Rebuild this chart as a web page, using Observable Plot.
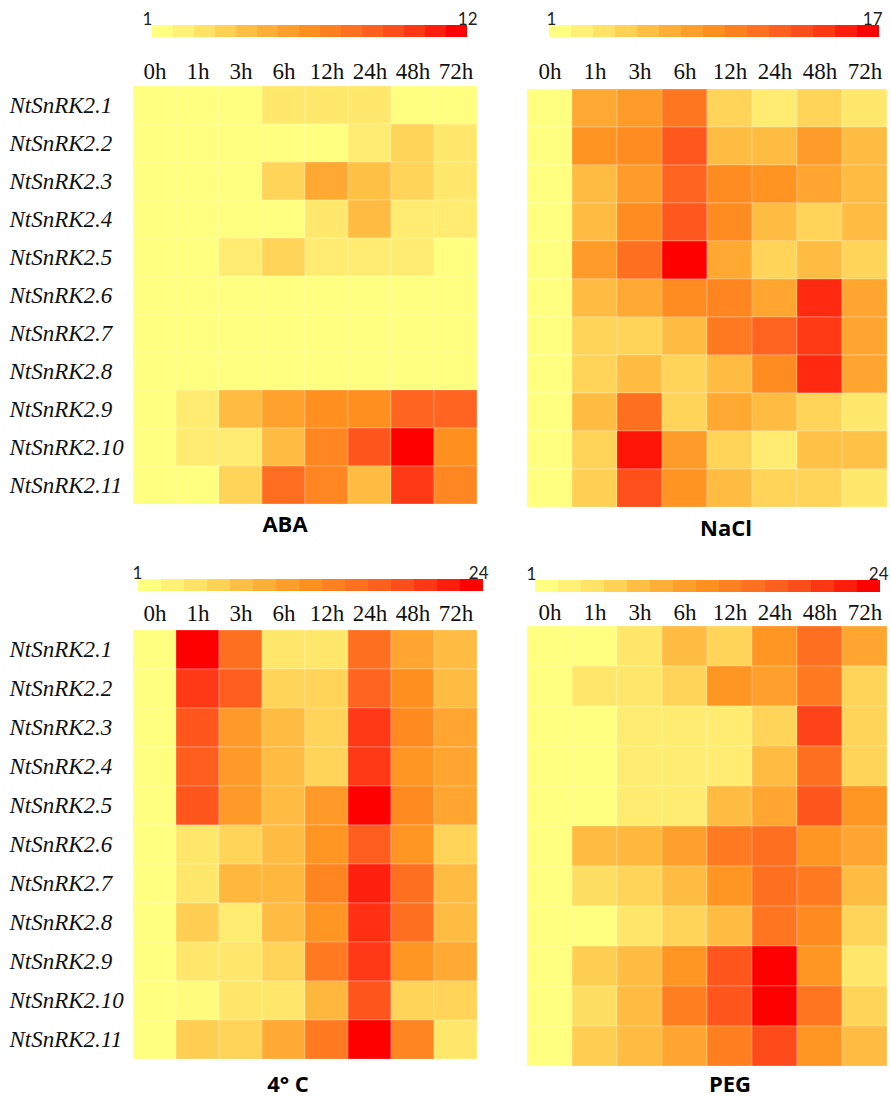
<!DOCTYPE html>
<html><head><meta charset="utf-8">
<script src="https://cdn.jsdelivr.net/npm/d3@7"></script>
<script src="https://cdn.jsdelivr.net/npm/@observablehq/plot@0.6"></script>
<style>
body{margin:0;background:#fff;}
#root{position:relative;width:891px;height:1101px;overflow:hidden;background:#fff;}
#root svg{position:absolute;overflow:visible;}
.title{position:absolute;font-family:"Open Sans",Lato,sans-serif;font-weight:bold;font-size:22px;color:#000;transform:translate(-50%,-50%);white-space:pre;line-height:1;}
</style></head><body><div id="root"></div>
<script>
const genes = ["NtSnRK2.1","NtSnRK2.2","NtSnRK2.3","NtSnRK2.4","NtSnRK2.5","NtSnRK2.6","NtSnRK2.7","NtSnRK2.8","NtSnRK2.9","NtSnRK2.10","NtSnRK2.11"];
const times = ["0h","1h","3h","6h","12h","24h","48h","72h"];

// Relative expression, rows = genes, columns = times
const abaValues = [
  [1, 1, 1, 2.3, 2.3, 2.3, 1, 1],
  [1, 1, 1, 1, 1, 2.1, 3.2, 2.3],
  [1, 1, 1, 3.2, 5.2, 4.1, 3.2, 2.3],
  [1, 1, 1, 1, 2.3, 4.3, 2.1, 2.1],
  [1, 1, 2.1, 3.2, 2.1, 2.1, 2.1, 1],
  [1, 1, 1, 1, 1, 1, 1, 1],
  [1, 1, 1, 1, 1, 1, 1, 1],
  [1, 1, 1, 1, 1, 1, 1, 1],
  [1, 2.1, 4.3, 5.6, 6.5, 6.5, 8.7, 8.7],
  [1, 2.1, 2.1, 4.3, 7, 9.3, 12, 6.5],
  [1, 1, 3.2, 8.2, 7, 4.3, 10.4, 7]
];
const naclValues = [
  [1, 7.1, 8.2, 10.9, 4.2, 2.6, 4.2, 2.9],
  [1, 8.7, 9.3, 13, 5.8, 5.8, 8.2, 5.8],
  [1, 5.8, 8.2, 12.2, 9.3, 8.7, 7.4, 5.8],
  [1, 5.8, 9.3, 13, 9.3, 5.8, 4.2, 5.8],
  [1, 8.2, 11.4, 17, 7.1, 4.2, 5.8, 4.2],
  [1, 5.8, 7.1, 9.3, 9.8, 7.4, 15.4, 7.4],
  [1, 4.2, 4.2, 5.8, 10.6, 12.2, 14.6, 7.4],
  [1, 4.2, 5.8, 4.2, 5.8, 9.3, 15.4, 7.4],
  [1, 5.8, 11.4, 4.2, 7.1, 5.8, 4.2, 2.9],
  [1, 4.2, 16.2, 8.2, 4.2, 2.6, 5.5, 5.5],
  [1, 4.5, 13.5, 8.7, 5.8, 4.2, 4.2, 2.9]
];
const coldValues = [
  [1, 24, 16, 3.8, 3.8, 16, 10.2, 7.9],
  [1, 20.6, 17.6, 5.6, 5.6, 17.1, 12.5, 7.9],
  [1, 18.3, 11.4, 7.9, 5.6, 20.6, 13, 10.2],
  [1, 17.6, 11.4, 7.9, 5.6, 20.6, 12, 10.2],
  [1, 18.3, 11.4, 7.9, 11.4, 24, 13, 10.2],
  [1, 3.8, 5.6, 7.9, 12, 17.6, 12, 5.6],
  [1, 3.8, 8.4, 8.4, 13.7, 22.2, 16, 7.9],
  [1, 6.1, 3.3, 7.9, 12, 21.2, 16, 7.9],
  [1, 3.8, 3.8, 5.6, 14.8, 20.6, 12, 9.7],
  [1, 1.5, 3.8, 3.8, 8.4, 18.3, 5.6, 5.6],
  [1, 6.1, 5.6, 9.7, 14.8, 24, 13.7, 3.8]
];
const pegValues = [
  [1, 1, 3.8, 7.9, 5.6, 12, 16, 10.2],
  [1, 3.8, 3.8, 5.6, 12, 10.7, 14.8, 5.6],
  [1, 1, 3.3, 3.3, 3.3, 5.6, 19.9, 5.6],
  [1, 1, 3.3, 3.3, 3.3, 7.9, 16, 5.6],
  [1, 1, 3.3, 3.3, 7.9, 10.2, 18.3, 12],
  [1, 7.9, 8.4, 10.7, 14.8, 16, 12, 10.2],
  [1, 4.5, 5.6, 7.9, 12, 16, 14.8, 7.9],
  [1, 1, 3.8, 5.6, 7.9, 15.3, 13, 5.6],
  [1, 6.1, 7.9, 12, 18.3, 24, 12, 3.8],
  [1, 4.5, 7.9, 14.3, 18.3, 24, 15.3, 5.6],
  [1, 6.1, 7.9, 10.2, 14.3, 19.4, 12, 7.9]
];
const panelTitles = ["ABA", "NaCl", "4° C", "PEG"];
const legendMax = [12, 17, 24, 24];

const heatColors = ["#ffff80","#ffec70","#ffd458","#ffbc42","#ffa530","#ff9020","#ff7a20","#ff6420","#ff4a1a","#ff2a10","#ff0000"];
const heat = d3.piecewise(d3.interpolateRgb, heatColors);

const panels = [
  {values: abaValues, cell:[130,480,85,505], legend:[145,474,25,37], gap:7, title:[285,523], showY:true},
  {values: naclValues, cell:[527,887,87,508], legend:[549,879,25,37], gap:9, title:[726,527], showY:false},
  {values: coldValues, cell:[130,480,625,1063], legend:[135,485,579,591], gap:5, title:[288,1083], showY:true},
  {values: pegValues, cell:[525,889,623,1068], legend:[529,885,580,592], gap:4, title:[730,1083], showY:false}
];

const root = document.getElementById("root");
const serif = "'Liberation Serif','Times New Roman',serif";
const sans = "Lato,'Open Sans',sans-serif";

panels.forEach((p, k) => {
  const max = legendMax[k];
  const colorOpt = {type: "linear", domain: [1, max], interpolate: heat};
  const data = [];
  genes.forEach((g, i) => times.forEach((t, j) => data.push({gene: g, time: t, value: p.values[i][j]})));

  // Heatmap
  const [x0, x1, y0, y1] = p.cell;
  const L = p.showY ? 0 : x0 - 6;
  const T = y0 - 40;
  const marks = [
    Plot.cell(data, {x: "time", y: "gene", fill: "value", inset: 0, stroke: "#fff", strokeOpacity: 0.25, strokeWidth: 1}),
    Plot.axisX({anchor: "top", tickSize: 0, tickPadding: p.gap, fontSize: 23, fontFamily: serif, fill: "#111", label: null})
  ];
  if (p.showY) {
    marks.push(Plot.text(genes, {y: d => d, text: d => d, frameAnchor: "left", textAnchor: "start", dx: -(x0 - 9), fontSize: 23, fontStyle: "italic", fontFamily: serif, fill: "#111"}));
  }
  const hm = Plot.plot({
    width: x1 - L + 2, height: y1 - T + 2,
    marginLeft: x0 - L, marginTop: y0 - T, marginRight: 2, marginBottom: 2,
    x: {type: "band", domain: times, padding: 0, axis: null},
    y: {type: "band", domain: genes, padding: 0, axis: null},
    color: colorOpt,
    style: {background: "transparent", overflow: "visible"},
    marks
  });
  hm.style.left = L + "px"; hm.style.top = T + "px";
  root.appendChild(hm);

  // Stepped legend bar
  const [lx0, lx1, ly0, ly1] = p.legend;
  const steps = d3.range(15).map(i => ({i, v: 1 + (max - 1) * i / 14}));
  const lg = Plot.plot({
    width: lx1 - lx0 + 20, height: ly1 - ly0 + 24,
    marginLeft: 10, marginRight: 10, marginTop: 22, marginBottom: 2,
    x: {type: "band", domain: d3.range(15), padding: 0, axis: null},
    color: colorOpt,
    style: {background: "transparent", overflow: "visible"},
    marks: [
      Plot.cell(steps, {x: "i", fill: "v", inset: 0}),
      Plot.text(["1"], {frameAnchor: "top-left", textAnchor: "start", lineAnchor: "bottom", dy: -1, dx: -3, fontSize: 17, fontFamily: sans, fill: "#222"}),
      Plot.text([String(max)], {frameAnchor: "top-right", textAnchor: "end", lineAnchor: "bottom", dy: -1, dx: 3, fontSize: 17, fontFamily: sans, fill: "#222"})
    ]
  });
  lg.style.left = (lx0 - 10) + "px"; lg.style.top = (ly0 - 22) + "px";
  root.appendChild(lg);

  const t = document.createElement("div");
  t.className = "title";
  t.textContent = panelTitles[k];
  t.style.left = p.title[0] + "px"; t.style.top = p.title[1] + "px";
  root.appendChild(t);
});
</script></body></html>
